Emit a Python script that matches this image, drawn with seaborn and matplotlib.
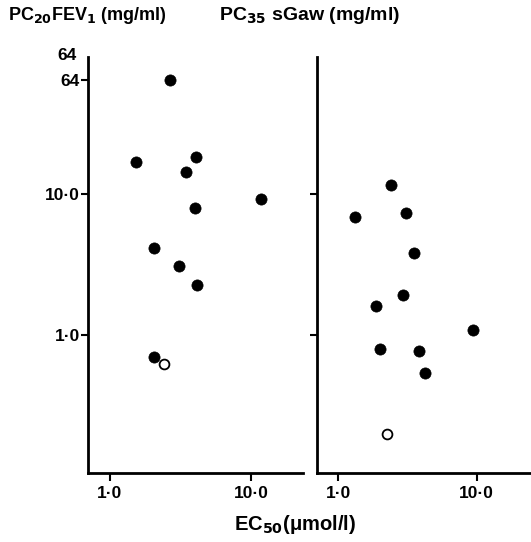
import matplotlib
matplotlib.use('Agg')
import matplotlib.pyplot as plt
import seaborn as sns
import pandas as pd

sns.set_style('ticks')
plt.rcParams['font.family'] = ['Liberation Sans', 'DejaVu Sans']
plt.rcParams['font.weight'] = 'bold'
plt.rcParams['mathtext.default'] = 'bf'
plt.rcParams['text.color'] = 'black'

# PC20 FEV1 vs EC50
fev_x = [2.67, 1.53, 4.05, 3.46, 4.01, 11.7, 2.06, 3.07, 4.14, 2.04]
fev_y = [64, 16.7, 18.1, 14.2, 7.9, 9.1, 4.1, 3.1, 2.25, 0.70]
fev_open_x = [2.43]
fev_open_y = [0.62]

# PC35 sGaw vs EC50
sgaw_x = [2.40, 1.31, 3.07, 3.51, 2.95, 1.86, 9.46, 2.01, 3.81, 4.21]
sgaw_y = [11.5, 6.8, 7.3, 3.8, 1.93, 1.61, 1.08, 0.79, 0.77, 0.54]
sgaw_open_x = [2.25]
sgaw_open_y = [0.20]

xticks = [1.0, 10.0]
xticklabels = ['1·0', '10·0']
yticks = [1.0, 10.0, 64]
yticklabels = ['1·0', '10·0', '64']

fig = plt.figure(figsize=(5.31, 5.42), dpi=100)
ax1 = fig.add_axes([0.1657, 0.1273, 0.405, 0.7675])
ax2 = fig.add_axes([0.597, 0.1273, 0.403, 0.7675])

panels = [
    (ax1, fev_x, fev_y, fev_open_x, fev_open_y, (0.70, 23.4), True),
    (ax2, sgaw_x, sgaw_y, sgaw_open_x, sgaw_open_y, (0.70, 24.7), False),
]

for ax, x, y, ox, oy, xlim, show_labels in panels:
    filled = pd.DataFrame({'x': x, 'y': y})
    opened = pd.DataFrame({'x': ox, 'y': oy})
    sns.scatterplot(data=filled, x='x', y='y', ax=ax, s=65, color='black',
                    edgecolor='black', linewidth=0.5, zorder=3)
    sns.scatterplot(data=opened, x='x', y='y', ax=ax, s=50, facecolor='white',
                    edgecolor='black', linewidth=1.3, zorder=3)
    ax.set_xscale('log')
    ax.set_yscale('log')
    ax.set_xlim(*xlim)
    ax.set_ylim(0.105, 93)
    ax.minorticks_off()
    ax.set_xticks(xticks)
    ax.set_xticklabels(xticklabels, fontsize=12.5, fontweight='bold')
    if show_labels:
        ax.set_yticks(yticks)
        ax.set_yticklabels(yticklabels, fontsize=12.5, fontweight='bold')
    else:
        ax.set_yticks(yticks[:2])
        ax.set_yticklabels([])
    ax.tick_params(axis='x', length=6, width=1.5, colors='black', pad=3.5)
    ax.tick_params(axis='y', length=5, width=1.5, colors='black', pad=1)
    ax.set_xlabel('')
    ax.set_ylabel('')
    for side in ['left', 'bottom']:
        ax.spines[side].set_linewidth(2)
        ax.spines[side].set_color('black')
    sns.despine(ax=ax)

fig.text(0.015, 0.972, r'PC$_{20}$FEV$_1$ (mg/ml)', fontsize=13, fontweight='bold', va='center')
fig.text(0.413, 0.972, r'PC$_{35}$ sGaw (mg/ml)', fontsize=14, fontweight='bold', va='center')
fig.text(0.145, 0.898, '64', fontsize=12.5, fontweight='bold', ha='right', va='center')
fig.text(0.555, 0.032, r'EC$_{50}$(μmol/l)', fontsize=14.5, fontweight='bold', ha='center', va='center')

fig.savefig('out.png', dpi=100)
